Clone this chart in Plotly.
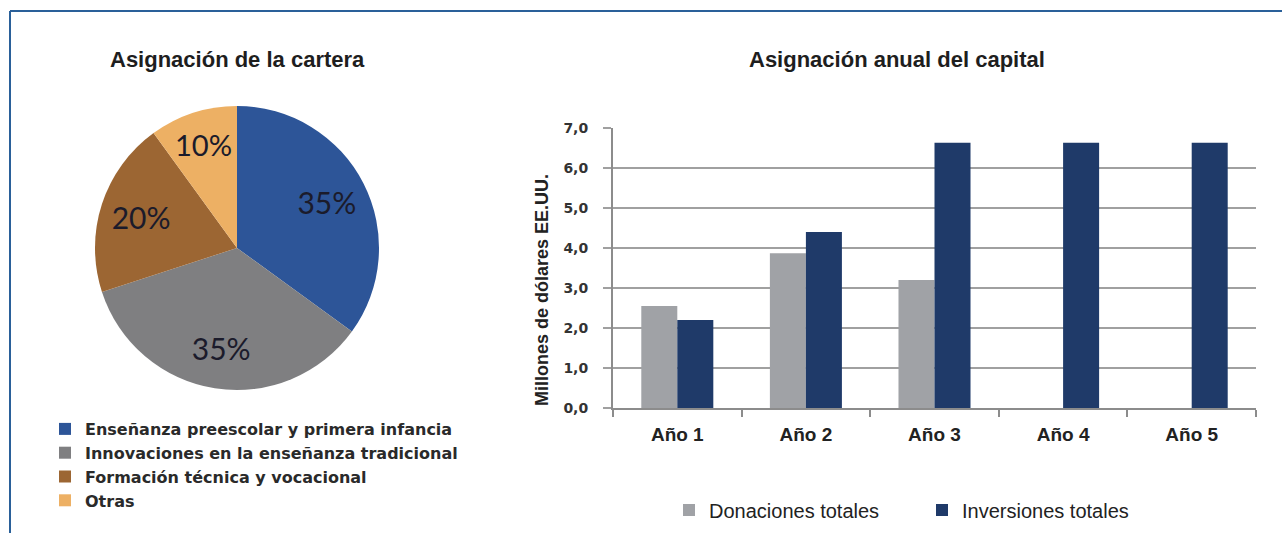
import plotly.graph_objects as go

W, H = 1282, 533

# ---- data ----
pie_labels = ["Enseñanza preescolar y primera infancia",
              "Innovaciones en la enseñanza tradicional",
              "Formación técnica y vocacional",
              "Otras"]
pie_values = [35, 35, 20, 10]
pie_colors = ["#2D5598", "#7F7F81", "#9C6633", "#EDB064"]

years = ["Año 1", "Año 2", "Año 3", "Año 4", "Año 5"]
donaciones = [2.55, 3.87, 3.2, None, None]
inversiones = [2.2, 4.4, 6.63, 6.63, 6.63]
y_ticks = [0, 1, 2, 3, 4, 5, 6, 7]

def px_x(v):
    return v / W

def px_y(v):
    return 1 - v / H

pie_domain = dict(x=[px_x(95), px_x(379)], y=[px_y(390), px_y(106)])

fig = go.Figure()

# main pie (slices + legend)
fig.add_trace(go.Pie(
    labels=pie_labels, values=pie_values, sort=False, direction="clockwise",
    rotation=0, marker=dict(colors=pie_colors, line=dict(width=0)),
    textinfo="none", domain=pie_domain,
    legend="legend", hoverinfo="label+percent",
))
# transparent ring carrying the percentage labels
fig.add_trace(go.Pie(
    labels=pie_labels, values=pie_values, sort=False, direction="clockwise",
    rotation=0, hole=0.42,
    marker=dict(colors=["rgba(0,0,0,0)"] * len(pie_values), line=dict(width=0)),
    texttemplate="%{percent:.0%}", textposition="inside",
    insidetextorientation="horizontal",
    textfont=dict(family="Lato, Open Sans, sans-serif", size=30, color="#1b1b2b"),
    domain=pie_domain, showlegend=False, hoverinfo="skip",
))

fig.add_trace(go.Bar(x=years, y=donaciones, name="Donaciones totales",
                     marker=dict(color="#A0A2A6", line=dict(width=0)),
                     legend="legend2", xaxis="x", yaxis="y"))
fig.add_trace(go.Bar(x=years, y=inversiones, name="Inversiones totales",
                     marker=dict(color="#1F3A69", line=dict(width=0)),
                     legend="legend2", xaxis="x", yaxis="y"))

fig.update_layout(
    width=W, height=H, margin=dict(l=0, r=0, t=0, b=0, autoexpand=False),
    paper_bgcolor="white", plot_bgcolor="white",
    separators=", ",
    barmode="group", bargap=0.44, bargroupgap=0,
    xaxis=dict(domain=[px_x(613), px_x(1256)], type="category",
               showline=True, linecolor="#8C8C8C", linewidth=2,
               ticks="outside", tickson="boundaries", ticklen=7,
               tickcolor="#8C8C8C", tickwidth=1.5, ticklabelstandoff=8,
               tickfont=dict(family="Liberation Sans, Arial, sans-serif",
                             size=19, color="#222222", weight="bold"),
               showgrid=False, fixedrange=True),
    yaxis=dict(domain=[px_y(408), px_y(128)], range=[0, 7],
               tickvals=y_ticks, tickformat=".1f",
               showline=True, linecolor="#8C8C8C", linewidth=2,
               ticks="outside", ticklen=8, tickcolor="#A0A0A0", tickwidth=2,
               showgrid=True, gridcolor="#A0A0A0", gridwidth=2,
               zeroline=False, ticklabelstandoff=12,
               tickfont=dict(family="DejaVu Sans, sans-serif", size=14, color="#333333",
                             weight="bold"),
               fixedrange=True),
    legend=dict(x=px_x(45), y=px_y(412), xanchor="left", yanchor="top",
                orientation="v", bgcolor="rgba(0,0,0,0)",
                font=dict(family="DejaVu Sans, sans-serif", size=16, color="#2A2A2A",
                          weight="bold"),
                itemclick=False, itemdoubleclick=False),
    legend2=dict(x=px_x(669), y=px_y(510), xanchor="left", yanchor="middle",
                 orientation="h", bgcolor="rgba(0,0,0,0)",
                 entrywidth=208, entrywidthmode="pixels",
                 font=dict(family="Liberation Sans, Arial, sans-serif",
                           size=20, color="#222222"),
                 itemclick=False, itemdoubleclick=False),
    showlegend=True,
    annotations=[
        dict(text="<b>Asignación de la cartera</b>", x=px_x(237), y=px_y(60),
             xref="paper", yref="paper", showarrow=False,
             xanchor="center", yanchor="middle",
             font=dict(family="Liberation Sans, Arial, sans-serif", size=22, color="#1E1E1E")),
        dict(text="<b>Asignación anual del capital</b>", x=px_x(897), y=px_y(60),
             xref="paper", yref="paper", showarrow=False,
             xanchor="center", yanchor="middle",
             font=dict(family="Liberation Sans, Arial, sans-serif", size=22, color="#1E1E1E")),
        dict(text="<b>Millones de dólares EE.UU.</b>", x=px_x(542), y=px_y(290),
             xref="paper", yref="paper", showarrow=False, textangle=-90,
             xanchor="center", yanchor="middle",
             font=dict(family="Liberation Sans, Arial, sans-serif", size=18, color="#222222")),
    ],
    shapes=[
        dict(type="line", xref="paper", yref="paper", x0=px_x(10), x1=1.0,
             y0=px_y(11), y1=px_y(11), line=dict(color="#2A6099", width=2)),
        dict(type="line", xref="paper", yref="paper", x0=px_x(10), x1=px_x(10),
             y0=px_y(11), y1=0, line=dict(color="#2A6099", width=2)),
    ],
)

fig.write_html("out.html")
